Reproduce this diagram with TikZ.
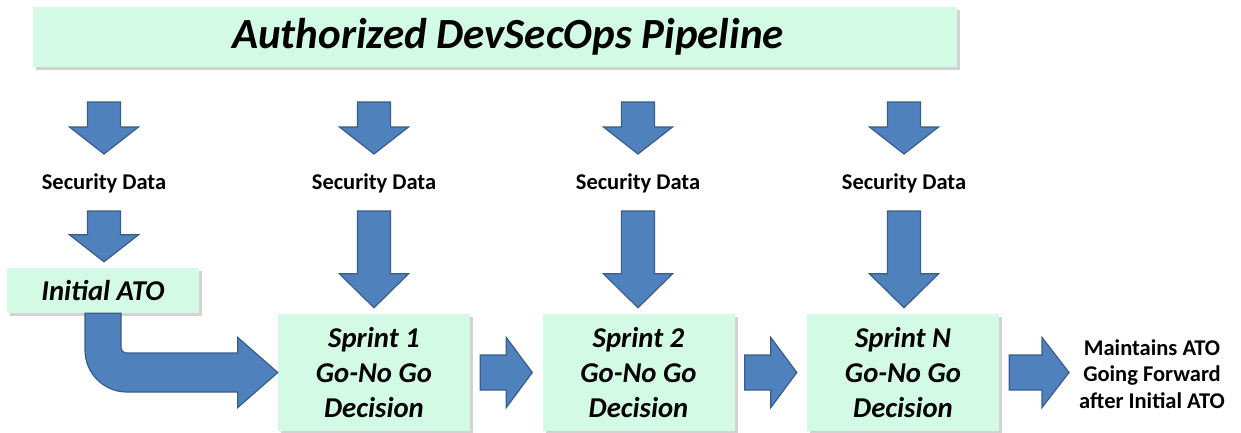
\documentclass[tikz,border=0pt]{standalone}
\usepackage{fontspec}
\setmainfont{Carlito}
\usetikzlibrary{calc,shadows}

\definecolor{mint}{RGB}{210,250,228}
\definecolor{arrowblue}{RGB}{79,129,189}
\definecolor{arrowline}{RGB}{56,93,138}

% down block arrow: column node, start, tip, head length
\newcommand{\vblock}[4]{%
  \draw[blockarrow] let \p0=(#1), \p1=(#2), \p2=(#3) in
    (\x0-16.5pt,\y1) -- (\x0+16.5pt,\y1) -- (\x0+16.5pt,\y2+#4) -- (\x0+34.5pt,\y2+#4)
    -- (\x0,\y2) -- (\x0-34.5pt,\y2+#4) -- (\x0-16.5pt,\y2+#4) -- cycle;}
% right block arrow: start, tip, head length
\newcommand{\hblock}[3]{%
  \draw[blockarrow] let \p1=(#1), \p2=(#2) in
    (\x1,\y1+17.5pt) -- (\x2-#3,\y1+17.5pt) -- (\x2-#3,\y1+35pt) -- (\x2,\y1)
    -- (\x2-#3,\y1-35pt) -- (\x2-#3,\y1-17.5pt) -- (\x1,\y1-17.5pt) -- cycle;}

\begin{document}
\begin{tikzpicture}[x=1pt, y=-1pt,
    titlenode/.style={fill=mint, drop shadow={shadow xshift=3pt, shadow yshift=-3pt, opacity=0.35, fill=gray},
      minimum width=924pt, minimum height=60pt, inner sep=0pt,
      font=\fontsize{43}{50}\selectfont\bfseries\itshape},
    boxnode/.style={fill=mint, drop shadow={shadow xshift=3pt, shadow yshift=-3pt, opacity=0.35, fill=gray},
      minimum width=192pt, inner sep=0pt, align=center,
      font=\fontsize{28.7}{35}\selectfont\bfseries\itshape},
    labelnode/.style={inner sep=0pt, align=center, font=\fontsize{22.5}{26.5}\selectfont\bfseries},
    blockarrow/.style={fill=arrowblue, draw=arrowline, line width=1.2pt, line join=miter},
    ]
\useasboundingbox (0,0) rectangle (1241,432);

% Title
\node[titlenode] (title) at (495,37) {\hspace*{26pt}Authorized DevSecOps Pipeline};

% Security data labels
\node[labelnode] (sd1) at (104,183) {Security Data};
\node[labelnode] (sd2) at (374,183) {Security Data};
\node[labelnode] (sd3) at (638,183) {Security Data};
\node[labelnode] (sd4) at (904,183) {Security Data};

% Boxes
\node[boxnode, minimum height=45pt] (ini) at (103,290.5) {Initial ATO};
\node[boxnode, minimum height=117pt] (s1) at (374,372.5) {Sprint 1\\Go-No Go\\Decision};
\node[boxnode, minimum height=117pt] (s2) at (638.5,372.5) {Sprint 2\\Go-No Go\\Decision};
\node[boxnode, minimum height=117pt] (sN) at (903,372.5) {Sprint N\\Go-No Go\\Decision};
\node[labelnode] (out) at (1152,374) {Maintains ATO\\Going Forward\\after Initial ATO};

% Rows of arrows
\coordinate (row1) at (0,102);
\coordinate (row1tip) at (0,154);
\coordinate (row2) at (0,211);

\foreach \c in {1,2,3,4} {
    \vblock{sd\c}{row1}{row1tip}{27pt}
}
\vblock{sd1}{row2}{$(ini.north)+(0,-6)$}{27pt}
\foreach \c/\b in {2/s1,3/s2,4/sN} {
    \vblock{sd\c}{row2}{$(\b.north)+(0,-6)$}{34pt}
}

% Bent arrow
\draw[blockarrow] let \p1=(ini.south), \p2=(s1.west) in
    (\x1-18pt,\y1) -- (\x1+18pt,\y1) -- (\x1+18pt,\y2+24.5pt)
    arc[start angle=180, end angle=270, radius=5pt]
    -- (\x2-40pt,\y2+19.5pt) -- (\x2-40pt,\y2+35pt) -- (\x2,\y2)
    -- (\x2-40pt,\y2-35pt) -- (\x2-40pt,\y2-19.5pt) -- (\x1+24pt,\y2-19.5pt)
    arc[start angle=270, end angle=180, radius=42pt] -- cycle;

% Sprint to sprint
\hblock{$(s1.east)+(10,0)$}{$(s2.west)+(-10,0)$}{26pt}
\hblock{$(s2.east)+(10,0)$}{$(sN.west)+(-10,0)$}{26pt}
\hblock{$(sN.east)+(10,0)$}{$(out.west)+(-10,0)$}{27pt}

\end{tikzpicture}
\end{document}
